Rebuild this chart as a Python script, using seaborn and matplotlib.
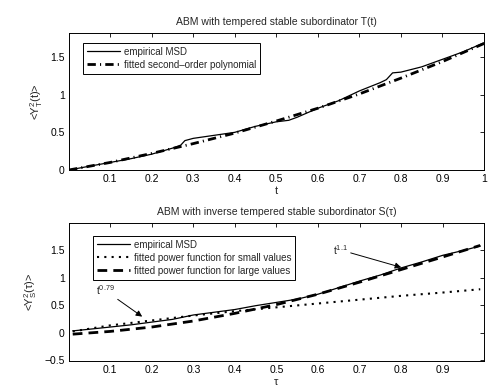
import matplotlib
matplotlib.use("Agg")
import matplotlib.pyplot as plt
import seaborn as sns

# top panel: ABM with tempered stable subordinator T(t)
t_emp = [0.001, 0.05, 0.1, 0.15, 0.2, 0.25, 0.27, 0.28, 0.3, 0.35, 0.4, 0.45, 0.5, 0.53,
         0.55, 0.6, 0.65, 0.7, 0.75, 0.765, 0.78, 0.8, 0.85, 0.9, 0.95, 1.0]
msd_T = [0.0, 0.05, 0.10, 0.15, 0.21, 0.29, 0.33, 0.39, 0.42, 0.46, 0.50, 0.58, 0.64, 0.66,
         0.70, 0.82, 0.92, 1.05, 1.16, 1.20, 1.29, 1.30, 1.37, 1.47, 1.57, 1.69]
t_fit = [0.001, 0.1, 0.2, 0.3, 0.4, 0.5, 0.6, 0.7, 0.8, 0.9, 1.0]
poly_T = [0.0, 0.10, 0.22, 0.35, 0.49, 0.65, 0.82, 1.01, 1.22, 1.44, 1.68]

# bottom panel: ABM with inverse tempered stable subordinator S(tau)
tau_emp = [0.01, 0.05, 0.1, 0.15, 0.2, 0.25, 0.3, 0.35, 0.4, 0.45, 0.5, 0.55, 0.6, 0.65,
           0.7, 0.75, 0.8, 0.85, 0.9, 0.95, 0.99]
msd_S = [0.03, 0.06, 0.10, 0.14, 0.19, 0.24, 0.32, 0.37, 0.42, 0.49, 0.55, 0.61, 0.70, 0.82,
         0.94, 1.05, 1.18, 1.29, 1.41, 1.50, 1.58]
tau_fit = [0.01, 0.1, 0.2, 0.3, 0.4, 0.5, 0.6, 0.7, 0.8, 0.9, 0.99]
pow_small = [0.02, 0.13, 0.22, 0.31, 0.39, 0.46, 0.53, 0.60, 0.67, 0.73, 0.79]
pow_large = [-0.03, 0.02, 0.10, 0.21, 0.35, 0.51, 0.70, 0.92, 1.15, 1.38, 1.59]

sns.set_style("white")
plt.rcParams['font.family'] = ['Liberation Sans', 'DejaVu Sans']
plt.rcParams['mathtext.fontset'] = 'custom'
plt.rcParams['mathtext.rm'] = 'Liberation Sans'
plt.rcParams['mathtext.it'] = 'Liberation Sans'

fig = plt.figure(figsize=(4.91, 3.88), dpi=100)
ax1 = fig.add_axes([0.1405, 0.5619, 0.8452, 0.3531])
ax2 = fig.add_axes([0.1405, 0.0696, 0.8452, 0.3557])

sns.lineplot(x=t_emp, y=msd_T, ax=ax1, color="k", lw=0.9, label="empirical MSD")
sns.lineplot(x=t_fit, y=poly_T, ax=ax1, color="k", lw=2, linestyle=(0, (3, 1.5, 0.4, 1.5)),
             label="fitted second\u2013order polynomial")
ax1.set_xlim(0.001, 1)
ax1.set_ylim(0, 1.82)
ax1.set_xticks([0.1, 0.2, 0.3, 0.4, 0.5, 0.6, 0.7, 0.8, 0.9, 1])
ax1.set_xticklabels(["0.1", "0.2", "0.3", "0.4", "0.5", "0.6", "0.7", "0.8", "0.9", "1"])
ax1.set_yticks([0, 0.5, 1, 1.5])
ax1.set_yticklabels(["0", "0.5", "1", "1.5"])
ax1.set_title("ABM with tempered stable subordinator T(t)", fontsize=7.5, pad=6)
ax1.set_xlabel("t", fontsize=8, labelpad=1)
ax1.set_ylabel(r"<Y$^2_T$(t)>", fontsize=8)

sns.lineplot(x=tau_emp, y=msd_S, ax=ax2, color="k", lw=0.9, label="empirical MSD")
sns.lineplot(x=tau_fit, y=pow_small, ax=ax2, color="k", lw=1.5, linestyle=(0, (1, 2.5)),
             label="fitted power function for small values")
sns.lineplot(x=tau_fit, y=pow_large, ax=ax2, color="k", lw=2, linestyle=(0, (3.5, 2.2)),
             label="fitted power function for large values")
ax2.set_xlim(0.001, 0.999)
ax2.set_ylim(-0.52, 2.0)
ax2.set_xticks([0.1, 0.2, 0.3, 0.4, 0.5, 0.6, 0.7, 0.8, 0.9])
ax2.set_xticklabels(["0.1", "0.2", "0.3", "0.4", "0.5", "0.6", "0.7", "0.8", "0.9"])
ax2.set_yticks([-0.5, 0, 0.5, 1, 1.5])
ax2.set_yticklabels(["\u22120.5", "0", "0.5", "1", "1.5"])
ax2.set_title("ABM with inverse tempered stable subordinator S(\u03c4)", fontsize=7.5, pad=6)
ax2.set_xlabel("\u03c4", fontsize=8, labelpad=1)
ax2.set_ylabel("<Y$^2_S$(\u03c4)>", fontsize=8)

ax2.annotate(r"t$^{0.79}$", xy=(0.177, 0.29), xytext=(0.065, 0.68), fontsize=7.5,
             arrowprops=dict(arrowstyle="-|>", color="k", lw=0.7, mutation_scale=9,
                             shrinkA=0, shrinkB=0))
ax2.annotate(r"t$^{1.1}$", xy=(0.80, 1.19), xytext=(0.635, 1.42), fontsize=7.5,
             arrowprops=dict(arrowstyle="-|>", color="k", lw=0.7, mutation_scale=9,
                             shrinkA=0, shrinkB=0))

legend_anchor = {ax1: (0.034, 0.927), ax2: (0.058, 0.906)}
for ax in (ax1, ax2):
    ax.tick_params(direction="in", top=True, right=True, labelsize=7.5, length=3,
                   width=0.6, pad=3, colors="k")
    for s in ax.spines.values():
        s.set_color("k")
        s.set_linewidth(0.7)
    leg = ax.legend(loc="upper left", bbox_to_anchor=legend_anchor[ax], borderaxespad=0,
                    fontsize=7, fancybox=False, framealpha=1, edgecolor="k",
                    handlelength=3.4, labelspacing=0.3, handletextpad=0.4)
    leg.get_frame().set_linewidth(0.7)

fig.savefig("out.png", dpi=100)
